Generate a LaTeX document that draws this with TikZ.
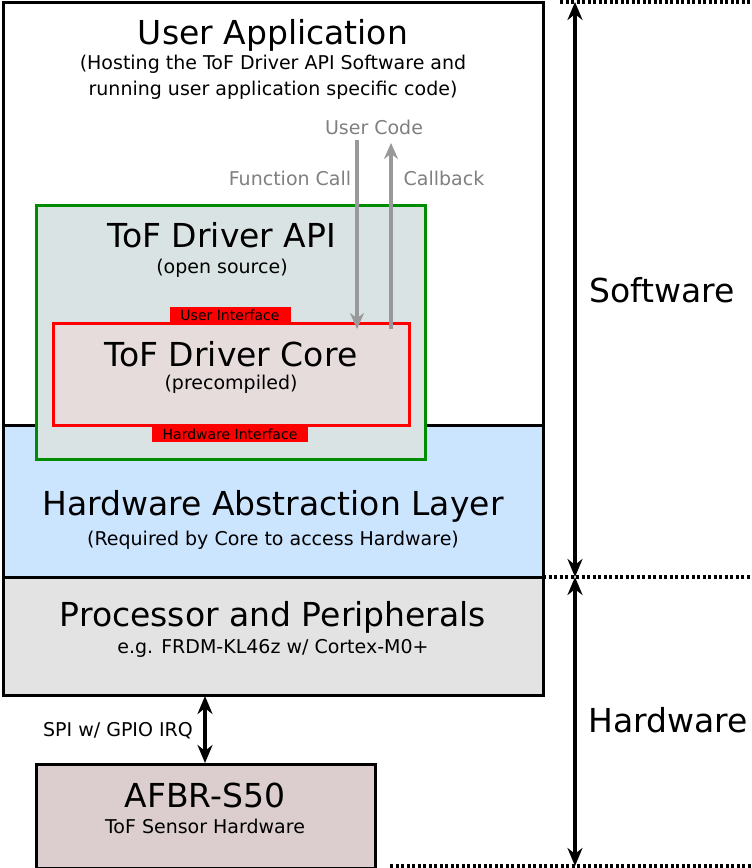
\documentclass[tikz,border=0pt]{standalone}
\usepackage{fontspec}
\setmainfont{DejaVu Sans}
\usetikzlibrary{arrows.meta,positioning}
\newcommand{\bigtxt}{\fontsize{33}{38}\selectfont}
\newcommand{\subtxt}{\fontsize{19}{26}\selectfont}
\definecolor{halblue}{RGB}{204,229,255}
\definecolor{apigray}{RGB}{218,227,227}
\definecolor{corered}{RGB}{231,220,220}
\definecolor{afbrred}{RGB}{220,206,206}
\begin{document}
\begin{tikzpicture}[x=1pt,y=-1pt,
  box/.style={draw,line width=3pt},
  ttl/.style={font=\bigtxt},
  subt/.style={font=\subtxt,align=center},
  tag/.style={fill=red,font=\fontsize{14}{16}\selectfont,inner sep=1pt,minimum height=16pt},
  grarr/.style={draw=gray!80,line width=3.5pt,-{Stealth[length=16pt,width=14pt]}},
  bkarr/.style={line width=3.5pt,{Stealth[length=18pt,width=15pt]}-{Stealth[length=18pt,width=15pt]}},
  dots/.style={line width=3.5pt,dash pattern=on 3pt off 2.5pt}]
  \useasboundingbox (0,0) rectangle (752,868);
  % layers
  \draw[box,fill=white] (3,2) rectangle (543,425);
  \draw[box,fill=halblue] (3,425) rectangle (543,577);
  \draw[box,fill=gray!22] (3,577) rectangle (543,695);
  \draw[box,draw=green!55!black,fill=apigray] (36,205) rectangle (425,459);
  \draw[box,draw=red,fill=corered] (53,323) rectangle (409,425);
  \draw[box,fill=afbrred] (36,764) rectangle (375,868);
  % texts
  \node[ttl] (app) at (273,35) {User Application};
  \node[subt] (appsub) at (273,77) {(Hosting the ToF Driver API Software and\\running user application specific code)};
  \node[ttl] (api) at (222,235) {ToF Driver API};
  \node[subt] at (222,268) {(open source)};
  \node[ttl] (core) at (231,354) {ToF Driver Core};
  \node[subt] at (231,384) {(precompiled)};
  \node[tag,minimum width=121pt] (ui) at (230,315) {User Interface};
  \node[tag,minimum width=156pt] (hi) at (230,434) {Hardware Interface};
  \node[ttl] (hal) at (273,506) {Hardware Abstraction Layer};
  \node[subt] at (273,540) {(Required by Core to access Hardware)};
  \node[ttl] (proc) at (273,617) {Processor and Peripherals};
  \node[subt] at (273,648) {e.g. FRDM-KL46z w/ Cortex-M0+};
  \node[ttl] (afbr) at (205,795) {AFBR-S50};
  \node[subt] at (205,826) {ToF Sensor Hardware};
  \node[font=\subtxt,text=gray] (uc) at (374,127) {User Code};
  \node[font=\subtxt,text=gray] at (290,178) {Function Call};
  \node[font=\subtxt,text=gray] at (444,178) {Callback};
  \node[font=\subtxt] at (118,731) {SPI w/ GPIO IRQ};
  \node[ttl] (sw) at (662,290) {Software};
  \node[ttl] (hw) at (668,720) {Hardware};
  % calls
  \coordinate (fcA) at (357,140); \coordinate (fcB) at (357,329);
  \coordinate (cbA) at (391,329); \coordinate (cbB) at (391,143);
  \draw[grarr] (fcA) -- (fcB);
  \draw[grarr] (cbA) -- (cbB);
  % links
  \coordinate (spiA) at (205,696); \coordinate (spiB) at (205,763);
  \draw[bkarr] (spiA) -- (spiB);
  \coordinate (s1) at (575,2); \coordinate (s2) at (575,577); \coordinate (s3) at (575,866);
  \draw[bkarr] (s1) -- (s2);
  \draw[bkarr] (s2) -- (s3);
  \draw[dots] (560,2) -- (752,2);
  \draw[dots] (543,577) -- (752,577);
  \draw[dots] (390,866) -- (752,866);
\end{tikzpicture}
\end{document}
